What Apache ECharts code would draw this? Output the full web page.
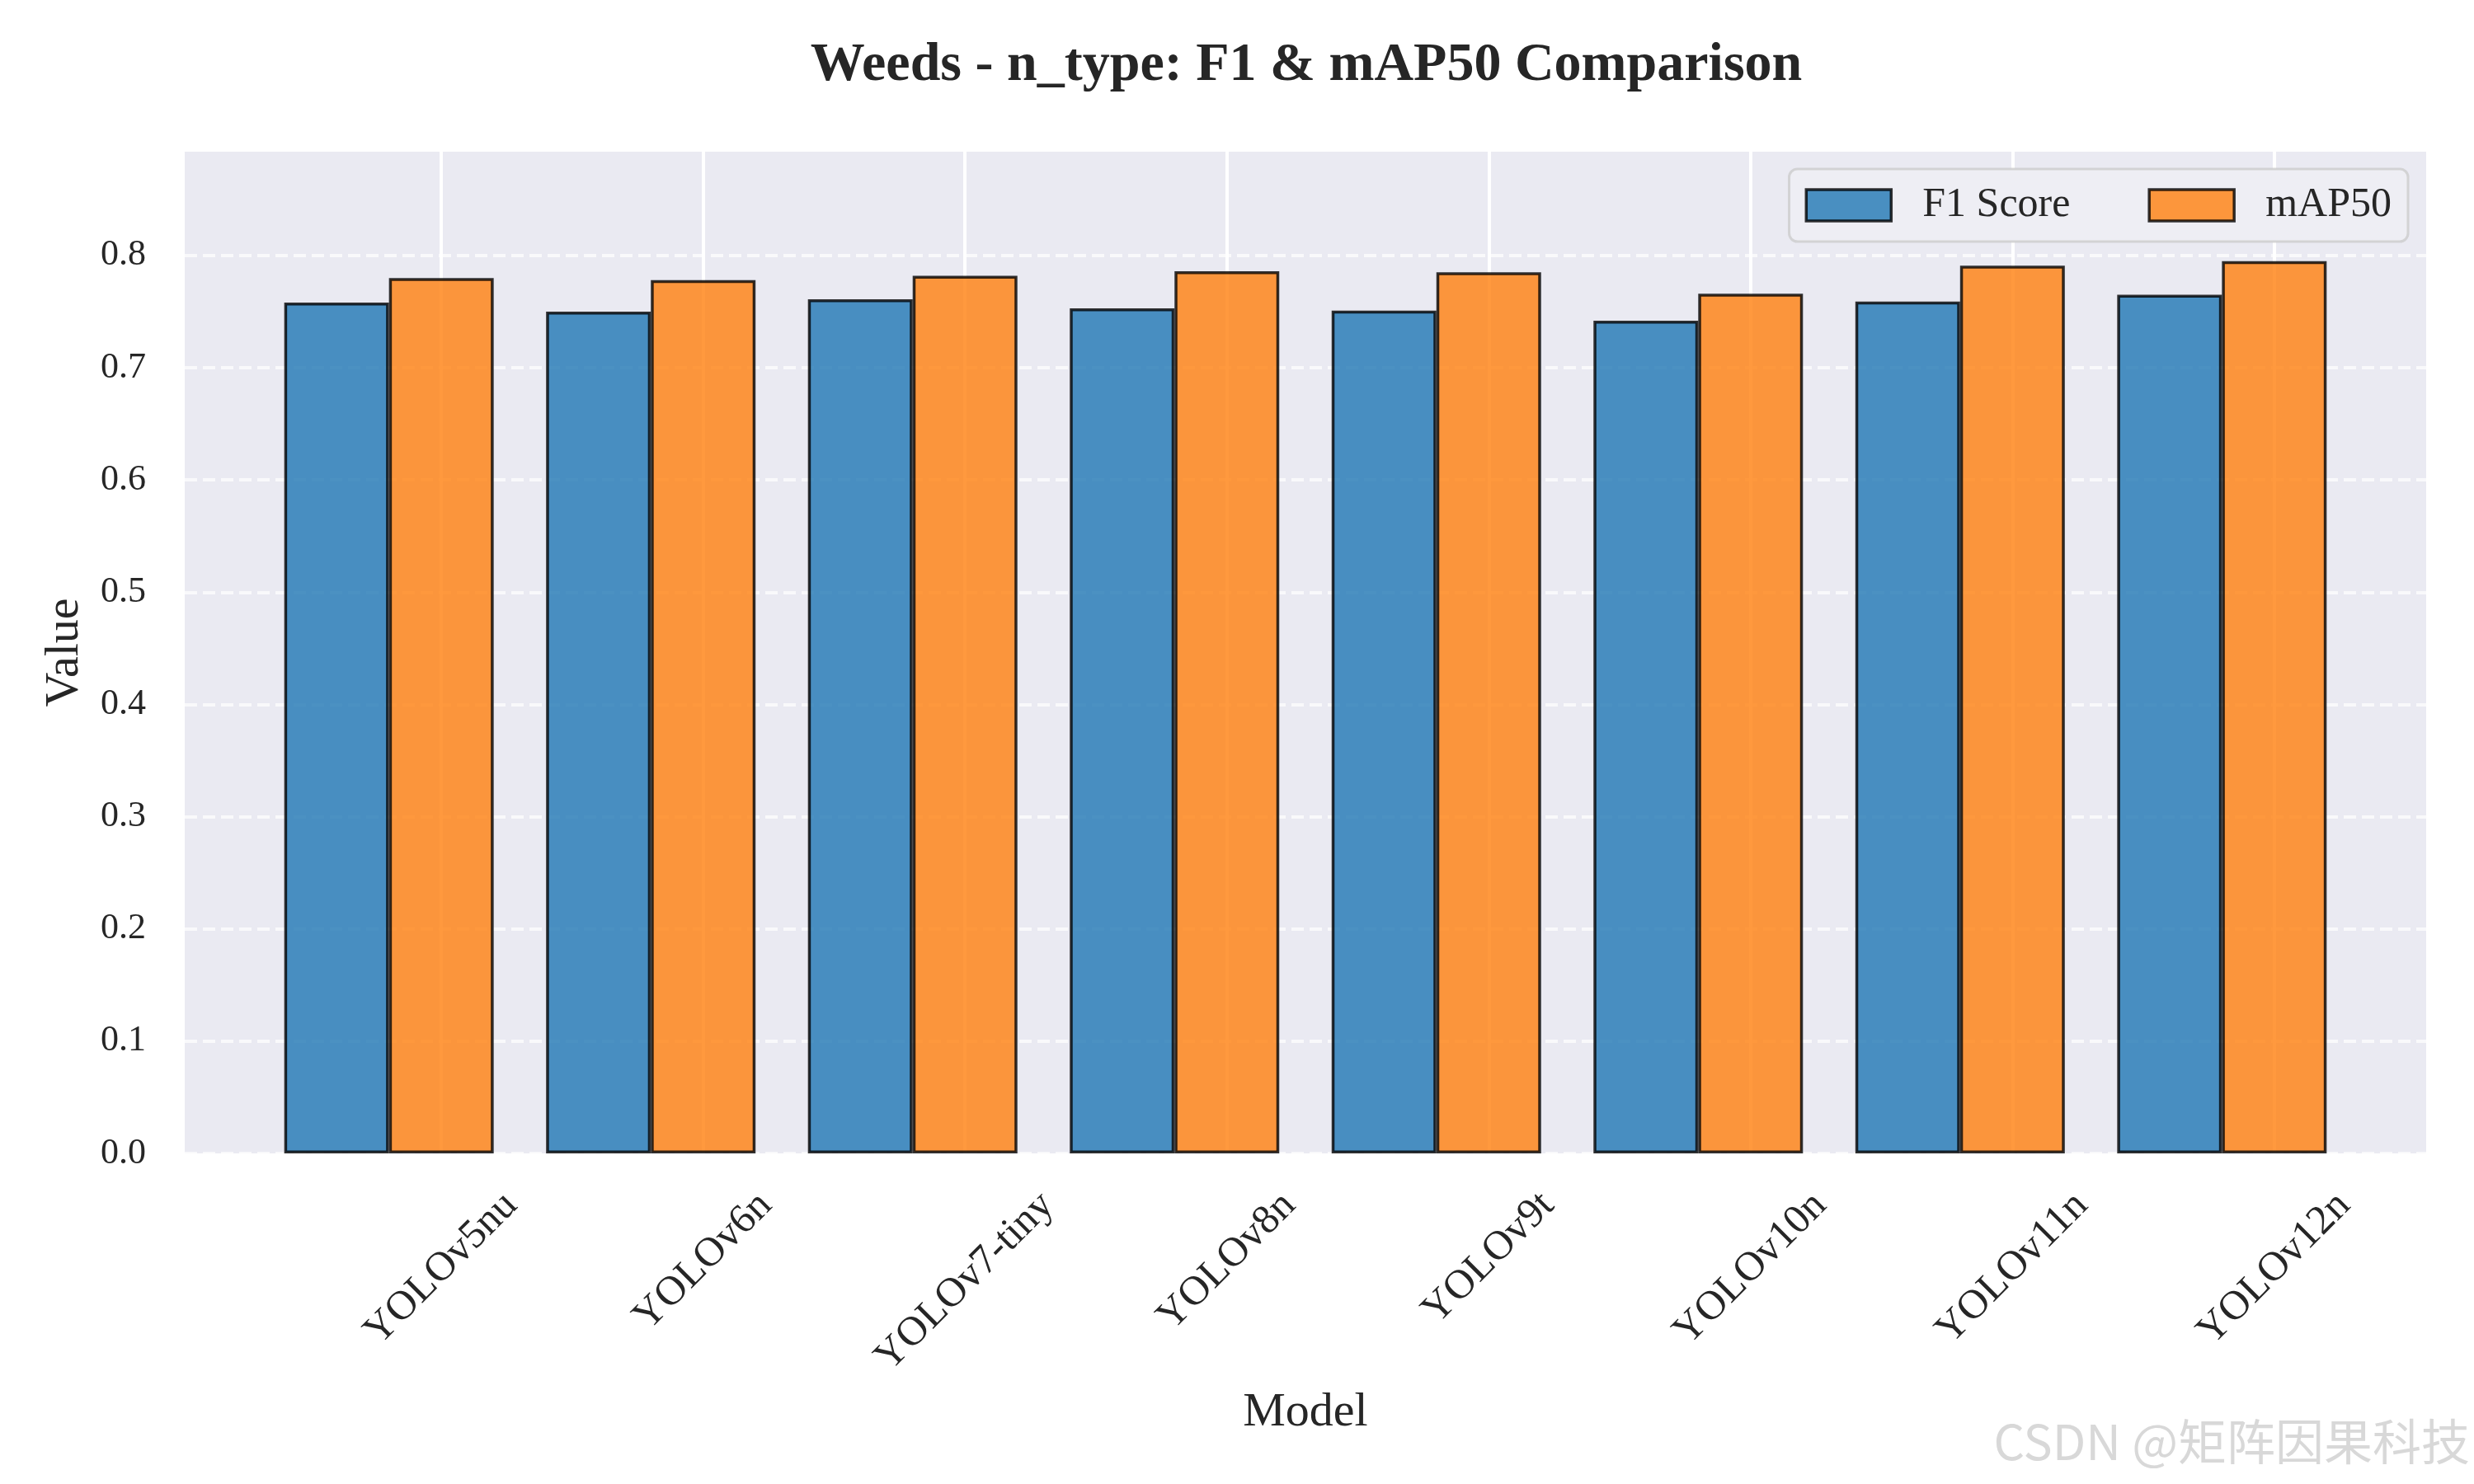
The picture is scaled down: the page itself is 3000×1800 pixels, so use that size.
<!DOCTYPE html>
<html>
<head>
<meta charset="utf-8">
<script src="https://cdn.jsdelivr.net/npm/echarts@6/dist/echarts.min.js"></script>
<style>
html,body{margin:0;padding:0;background:#fff;}
#chart{width:3000px;height:1800px;}
</style>
</head>
<body>
<div id="chart"></div>
<script>
// ---- data ----
const categories = ['YOLOv5nu', 'YOLOv6n', 'YOLOv7-tiny', 'YOLOv8n', 'YOLOv9t', 'YOLOv10n', 'YOLOv11n', 'YOLOv12n'];
const f1Scores = [0.758, 0.750, 0.761, 0.753, 0.751, 0.742, 0.759, 0.765];
const map50Scores = [0.780, 0.778, 0.782, 0.786, 0.785, 0.766, 0.791, 0.795];
const yTicks = [0.0, 0.1, 0.2, 0.3, 0.4, 0.5, 0.6, 0.7, 0.8];
const seriesNames = ['F1 Score', 'mAP50'];

const SERIF = "'Liberation Serif', 'Times New Roman', serif";
const TXT = '#262626';
const X_FONT = 50;
const barW = 0.4;
// tick positions sit at the centre of the second (mAP50) bar of each pair
const xTicks = categories.map((c, i) => i + barW / 2);

// Rotated x labels: the reference hangs each rotated label from a common top line
// (matplotlib ha=center / va=top). Emulate it with per-label padding shifts.
const mctx = document.createElement('canvas').getContext('2d');
mctx.font = X_FONT + "px 'Liberation Serif'";
const widths = categories.map(c => mctx.measureText(c).width);
const rich = {};
categories.forEach((c, i) => {
  const d = (widths[i] - widths[0]) / (2 * Math.SQRT2) - 1; // desired downward shift
  const sx = -d / Math.SQRT2, sy = d / Math.SQRT2;
  rich['t' + i] = {
    fontFamily: SERIF, fontSize: X_FONT, color: TXT,
    padding: [2 * Math.max(sy, 0), 2 * Math.max(-sx, 0), 2 * Math.max(-sy, 0), 2 * Math.max(sx, 0)]
  };
});

const chart = echarts.init(document.getElementById('chart'), null, {renderer: 'canvas'});
const option = {
  backgroundColor: '#ffffff',
  animation: false,
  title: [{
    text: 'Weeds - n_type: F1 & mAP50 Comparison',
    left: 1579,
    textAlign: 'center',
    top: 42,
    textStyle: {fontFamily: SERIF, fontWeight: 'bold', fontSize: 66, color: TXT}
  }, {
    text: 'CSDN @矩阵因果科技',
    right: 0,
    top: 1714,
    textStyle: {fontFamily: "'Noto Sans CJK SC', 'Noto Sans', sans-serif", fontWeight: 'normal', fontSize: 59, color: '#d8d8d8'}
  }],
  legend: {
    data: seriesNames,
    right: 80,
    top: 205,
    orient: 'horizontal',
    icon: 'rect',
    itemWidth: 103,
    itemHeight: 38,
    itemGap: 94,
    padding: [19, 20, 19, 19],
    backgroundColor: 'rgb(238,238,244)',
    borderColor: 'rgba(204,204,204,0.8)',
    borderWidth: 3,
    borderRadius: 10,
    itemStyle: {borderColor: 'rgba(0,0,0,0.8)', borderWidth: 3.5},
    textStyle: {fontFamily: SERIF, fontSize: 50, color: TXT, lineHeight: 38, padding: [0, 0, 0, 33]}
  },
  grid: {
    left: 224, right: 58, top: 184, bottom: 401,
    show: true, backgroundColor: '#EAEAF2', borderWidth: 0
  },
  xAxis: {
    type: 'value',
    min: -0.78,
    max: 7.78,
    name: 'Model',
    nameLocation: 'middle',
    nameGap: 286,
    nameTextStyle: {fontFamily: SERIF, fontSize: 58, color: TXT},
    axisLine: {show: false},
    axisTick: {show: false, customValues: xTicks},
    axisLabel: {
      customValues: xTicks,
      formatter: v => {
        const i = Math.round(v - barW / 2);
        return categories[i] ? '{t' + i + '|' + categories[i] + '}' : '';
      },
      rich: rich,
      rotate: 45,
      align: 'center',
      verticalAlign: 'middle',
      margin: 141,
      fontFamily: SERIF, fontSize: X_FONT, color: TXT
    },
    splitLine: {show: true, lineStyle: {color: '#ffffff', width: 4, type: 'solid'}}
  },
  yAxis: {
    type: 'value',
    min: 0,
    max: 0.8925,
    name: 'Value',
    nameLocation: 'middle',
    nameRotate: 90,
    nameGap: 116,
    nameTextStyle: {fontFamily: SERIF, fontSize: 58, color: TXT},
    axisLine: {show: false},
    axisTick: {show: false, customValues: yTicks},
    axisLabel: {
      customValues: yTicks,
      formatter: v => Number(v).toFixed(1),
      margin: 47,
      fontFamily: SERIF, fontSize: 44, color: TXT
    },
    splitLine: {show: true, lineStyle: {color: 'rgba(255,255,255,0.7)', width: 4, type: [15, 7]}}
  },
  series: [{
    name: seriesNames[0],
    type: 'bar',
    data: f1Scores.map((v, i) => [i, v]),
    barWidth: (barW * 100) + '%',
    barGap: '0%',
    itemStyle: {color: 'rgba(31,119,180,0.8)', borderColor: 'rgba(0,0,0,0.8)', borderWidth: 3.5}
  }, {
    name: seriesNames[1],
    type: 'bar',
    data: map50Scores.map((v, i) => [i, v]),
    barWidth: (barW * 100) + '%',
    barGap: '0%',
    itemStyle: {color: 'rgba(255,127,14,0.8)', borderColor: 'rgba(0,0,0,0.8)', borderWidth: 3.5}
  }]
};
chart.setOption(option);
</script>
</body>
</html>
